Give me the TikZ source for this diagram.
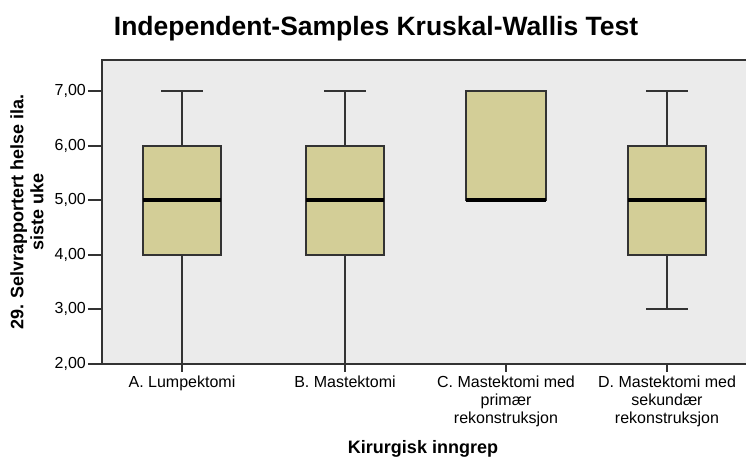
\documentclass[tikz,border=0pt]{standalone}
\usepackage{fontspec}
\setmainfont{Liberation Sans}
\definecolor{plotgray}{RGB}{235,235,235}
\definecolor{boxtan}{RGB}{211,206,151}
\definecolor{linegray}{RGB}{51,51,51}

\begin{document}
\begin{tikzpicture}[x=1pt,y=-1pt,
    frameline/.style={linegray, line width=1.5pt},
    boxbody/.style={fill=boxtan, draw=linegray, line width=1.5pt},
    median/.style={black, line width=4pt},
    whisker/.style={linegray, line width=1.5pt},
    ticklab/.style={font=\fontsize{16}{18}\selectfont, inner sep=0pt},
    catlab/.style={font=\fontsize{16}{18}\selectfont, align=center, anchor=north, inner sep=0pt},
    axislab/.style={font=\bfseries\fontsize{18}{20}\selectfont, align=center, inner sep=0pt}]
            \useasboundingbox (0,0) rectangle (746,462);
            % title
            \node[font=\bfseries\fontsize{26.5}{30}\selectfont] (title) at (376,29) {Independent-Samples Kruskal-Wallis Test};

            % plot area
            \fill[plotgray] (102,60) rectangle (746,364);
            \draw[frameline] (746,60) -- (102,60) -- (102,364) -- (746,364);

            % y axis
            \node[ticklab, anchor=east] (y7) at (86,91) {7,00};
            \node[ticklab, anchor=east] (y6) at (86,146) {6,00};
            \node[ticklab, anchor=east] (y5) at (86,200) {5,00};
            \node[ticklab, anchor=east] (y4) at (86,255) {4,00};
            \node[ticklab, anchor=east] (y3) at (86,309) {3,00};
            \node[ticklab, anchor=east] (y2) at (86,364) {2,00};
            \draw[frameline] (88,91) -- (102,91);
            \draw[frameline] (88,146) -- (102,146);
            \draw[frameline] (88,200) -- (102,200);
            \draw[frameline] (88,255) -- (102,255);
            \draw[frameline] (88,309) -- (102,309);
            \draw[frameline] (88,364) -- (102,364);
            \node[axislab, rotate=90] (ylab) at (27,212) {29. Selvrapportert helse ila.\\siste uke};

            % A. Lumpektomi
            \draw[whisker] (182,91) -- (182,364);
            \draw[whisker] (161,91) -- (203,91);
            \draw[boxbody] (143,146) rectangle (221,255);
            \draw[median] (143,200) -- (221,200);

            % B. Mastektomi
            \draw[whisker] (345,91) -- (345,364);
            \draw[whisker] (324,91) -- (366,91);
            \draw[boxbody] (306,146) rectangle (384,255);
            \draw[median] (306,200) -- (384,200);

            % C. Mastektomi med primaer rekonstruksjon
            \draw[boxbody] (466,91) rectangle (546,200);
            \draw[median] (466,200) -- (546,200);

            % D. Mastektomi med sekundaer rekonstruksjon
            \draw[whisker] (667,91) -- (667,309);
            \draw[whisker] (646,91) -- (688,91);
            \draw[whisker] (646,309) -- (688,309);
            \draw[boxbody] (628,146) rectangle (706,255);
            \draw[median] (628,200) -- (706,200);

            % x axis
            \draw[frameline] (182,364) -- (182,372);
            \draw[frameline] (345,364) -- (345,372);
            \draw[frameline] (506,364) -- (506,372);
            \draw[frameline] (667,364) -- (667,372);
            \node[catlab] (catA) at (182,376) {A. Lumpektomi};
            \node[catlab] (catB) at (345,376) {B. Mastektomi};
            \node[catlab] (catC) at (506,376) {C. Mastektomi med\\primær\\rekonstruksjon};
            \node[catlab] (catD) at (667,376) {D. Mastektomi med\\sekundær\\rekonstruksjon};
            \node[axislab] (xlab) at (423,449) {Kirurgisk inngrep};

        \end{tikzpicture}
\end{document}
